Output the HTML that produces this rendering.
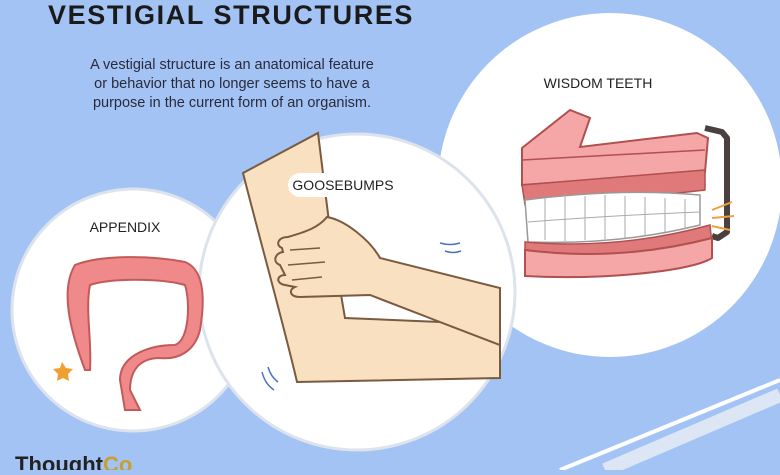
<!DOCTYPE html>
<html><head><style>
body{margin:0;width:780px;height:470px;overflow:hidden;background:#a3c3f5;font-family:"Liberation Sans",sans-serif}
</style></head><body>
<svg width="780" height="470" viewBox="0 0 780 470" xmlns="http://www.w3.org/2000/svg">
<rect width="780" height="470" fill="#a3c3f5"/>
<line x1="560" y1="470" x2="780" y2="380" stroke="#fff" stroke-width="4"/>
<line x1="605" y1="470" x2="780" y2="395" stroke="#dde6f5" stroke-width="14"/>
<text x="48" y="24" font-size="27" font-weight="bold" fill="#1a1a1a" letter-spacing="1.6">VESTIGIAL STRUCTURES</text>
<g font-size="14.5" fill="#2a2a3a" text-anchor="middle">
<text x="232" y="69">A vestigial structure is an anatomical feature</text>
<text x="232" y="88">or behavior that no longer seems to have a</text>
<text x="232" y="107">purpose in the current form of an organism.</text>
</g>
<circle cx="610" cy="185" r="172" fill="#fff"/>
<circle cx="133" cy="310" r="121" fill="#fff" stroke="#dde3ec" stroke-width="3"/>
<circle cx="357" cy="292" r="158" fill="#fff" stroke="#dde3ec" stroke-width="3"/>
<text x="125" y="232" font-size="14" text-anchor="middle" fill="#222">APPENDIX</text>
<!-- appendix -->
<path d="M85 370 C70 330 60 290 75 265 C100 255 150 255 185 262 C205 270 205 300 200 330 C195 350 180 360 160 358 C140 358 130 370 130 390 L140 410 L125 410 L120 380 C120 355 150 345 175 345 C190 340 190 300 185 285 C160 278 110 278 90 285 C85 310 92 340 90 370 Z" fill="#f08a8a" stroke="#c25a5a" stroke-width="2"/>
<path d="M62 362 l4 6 7 1 -5 5 1 7 -6 -3 -6 3 1 -7 -5 -5 7 -1z" fill="#f0a030"/>
<!-- arm -->
<path d="M243 173 L318 133 L330 230 L345 318 L440 322 L500 345 L500 378 L297 382 C285 330 260 240 243 173 Z" fill="#f8e0c0" stroke="#7a5a40" stroke-width="2"/>
<path d="M327 217 C345 220 370 240 380 258 L500 288 L500 345 L440 322 L370 295 L300 297 C290 297 288 290 295 287 L285 285 C275 283 277 275 285 275 L280 265 C272 262 275 253 283 252 L282 248 C275 245 278 237 288 237 C305 232 318 228 327 217 Z" fill="#f8e0c0" stroke="#7a5a40" stroke-width="2"/>
<path d="M290 250 L320 248 M288 265 L325 262 M292 280 L322 277" stroke="#7a5a40" stroke-width="1.5"/>
<rect x="288" y="173" width="112" height="24" rx="12" fill="#fff"/>
<text x="343" y="190" font-size="14" text-anchor="middle" fill="#222">GOOSEBUMPS</text>
<path d="M440 243 q10 3 20 0 M445 251 q8 3 16 0 M262 372 q3 12 12 18 M268 367 q3 10 10 15" stroke="#4a70c0" stroke-width="1.5" fill="none"/>
<!-- teeth -->
<text x="598" y="88" font-size="14" text-anchor="middle" fill="#222">WISDOM TEETH</text>
<path d="M705 128 L722 132 L727 138 L727 232 L718 238 L712 236" fill="none" stroke="#4a4040" stroke-width="6" stroke-linejoin="round"/>
<path d="M522 148 L570 110 L590 118 L580 147 L697 133 L708 138 L705 172 L522 185 Z" fill="#f5a6a6" stroke="#b05050" stroke-width="2"/>
<path d="M522 160 L705 150" stroke="#b05050" stroke-width="1.5"/>
<path d="M522 185 L705 170 L705 190 Q620 200 525 205 Z" fill="#e07a7a" stroke="#b05050" stroke-width="1.5"/>
<path d="M525 200 Q620 188 700 195 L700 225 Q620 245 528 242 Z" fill="#fff" stroke="#999" stroke-width="1.5"/>
<path d="M545 198 v42 M565 197 v44 M585 196 v44 M605 195 v44 M625 196 v42 M645 197 v38 M665 198 v34 M685 199 v30 M528 222 Q620 215 700 212" stroke="#aaa" stroke-width="1" fill="none"/>
<path d="M712 210 l20 -8 M712 218 l22 -2 M712 226 l18 4" stroke="#f0a040" stroke-width="2"/>
<path d="M525 242 Q620 250 710 225 L712 245 Q620 262 525 262 Z" fill="#e07a7a" stroke="#b05050" stroke-width="1.5"/>
<path d="M525 250 Q620 262 712 238 L712 258 C690 272 600 280 525 276 Z" fill="#f5a6a6" stroke="#b05050" stroke-width="2"/>
<text x="15" y="472" font-size="22" font-weight="bold" fill="#222">Thought<tspan fill="#c8a030">Co</tspan></text>
</svg>
</body></html>
